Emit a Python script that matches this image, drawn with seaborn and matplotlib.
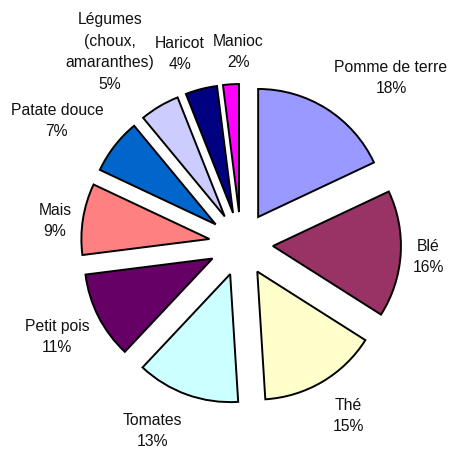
import matplotlib
matplotlib.use("Agg")
import matplotlib.pyplot as plt
import seaborn as sns

categories = ["Pomme de terre", "Blé", "Thé", "Tomates", "Petit pois", "Mais",
              "Patate douce", "Légumes\n(choux,\namaranthes)", "Haricot", "Manioc"]
values = [18, 16, 15, 13, 11, 9, 7, 5, 4, 2]
colors = ["#9999FF", "#993366", "#FFFFCC", "#CCFFFF", "#660066", "#FF8080",
          "#0066CC", "#CCCCFF", "#000080", "#FF00FF"]

# label positions (layout, in axes data units; pie radius = 1)
label_pos = [(1.172, 1.297), (1.461, -0.102), (0.836, -1.344), (-0.695, -1.461),
             (-1.4375, -0.727), (-1.453, 0.180), (-1.4375, 0.961), (-1.023, 1.50),
             (-0.477, 1.484), (-0.023, 1.50)]

sns.set_style("white")
plt.rcParams['font.family'] = ['Liberation Sans', 'DejaVu Sans']

fig = plt.figure(figsize=(4.57, 4.55), dpi=100)
ax = fig.add_axes([0, 0, 1, 1])
ax.pie(values, colors=colors, startangle=90, counterclock=False,
       explode=[0.25] * len(values), radius=1.0,
       wedgeprops=dict(edgecolor="black", linewidth=1.4))

for cat, v, (x, y) in zip(categories, values, label_pos):
    ax.text(x, y, f"{cat}\n{v}%", ha="center", va="center", fontsize=11.3,
            color="#111111", linespacing=1.55, multialignment="center")

ax.set_xlim(-241 / 128, (457 - 241) / 128)
ax.set_ylim(-(455 - 244) / 128, 244 / 128)
ax.set_aspect("equal")
ax.axis("off")
fig.savefig("out.png", dpi=100, facecolor="white")
